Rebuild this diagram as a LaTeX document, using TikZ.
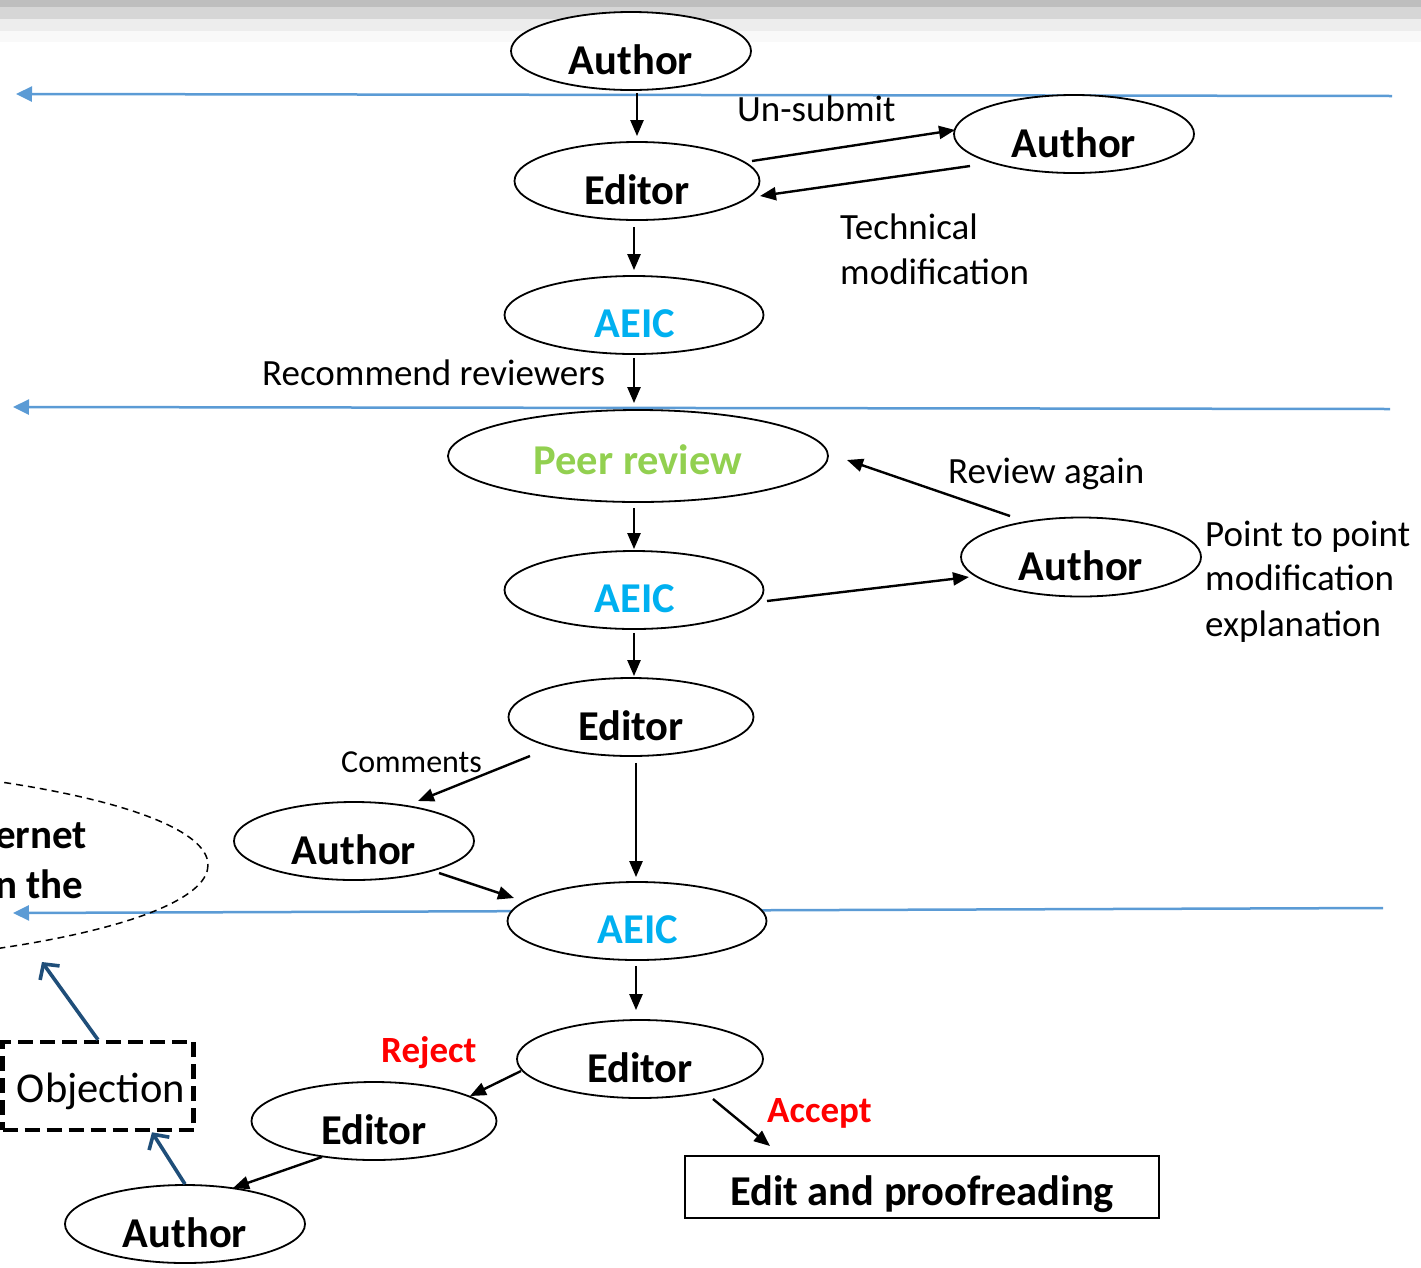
\documentclass[tikz,border=0pt]{standalone}
\usepackage{fontspec}
\setmainfont{Carlito}
\usetikzlibrary{shapes.geometric,arrows.meta,calc}
\definecolor{lineblue}{HTML}{5B9BD5}
\definecolor{aeiccol}{HTML}{00B0F0}
\definecolor{peercol}{HTML}{92D050}
\definecolor{darkarrow}{HTML}{1F4E79}
\definecolor{redlbl}{HTML}{FF0000}
\definecolor{bandA}{HTML}{BEBEBE}
\definecolor{bandB}{HTML}{D6D6D6}
\definecolor{bandC}{HTML}{EDEDED}
\definecolor{bandD}{HTML}{F9F9F9}
\begin{document}
\begin{tikzpicture}[x=1pt,y=-1pt,
  ell/.style 2 args={ellipse,draw,line width=1.8pt,fill=white,inner sep=0pt,minimum width=#1,minimum height=#2},
  lbl/.style={anchor=base,inner sep=0pt,font=\fontsize{42.5}{50}\selectfont\bfseries},
  txt/.style={anchor=base west,inner sep=0pt,font=\fontsize{37}{44}\selectfont},
  redtxt/.style={anchor=base west,inner sep=0pt,text=redlbl,font=\fontsize{37}{44}\selectfont\bfseries},
  arr/.style={line width=2.4pt,-{Triangle[length=16pt,width=13pt]}},
  bline/.style={draw=lineblue,line width=2.5pt,-{Triangle[length=16pt,width=15pt]}},
  darr/.style={draw=darkarrow,line width=3.6pt,-{Straight Barb[length=11pt,width=24pt]}}
]
\useasboundingbox (0,0) rectangle (1421,1267);
% top bands
\fill[bandD] (0,31) rectangle (1421,42);
\fill[bandC] (0,19) rectangle (1421,31);
\fill[bandB] (0,7) rectangle (1421,19);
\fill[bandA] (0,0) rectangle (1421,7);

% blue separator lines
\coordinate (b1r) at (1392,96);  \coordinate (b1l) at (16,94);
\coordinate (b2r) at (1390,409); \coordinate (b2l) at (13,407);
\coordinate (b3r) at (1383,908); \coordinate (b3l) at (13,913);
\draw[bline] (b1r) -- (b1l);
\draw[bline] (b2r) -- (b2l);
\draw[bline] (b3r) -- (b3l);

% dashed ellipse on the left (clipped)
\begin{scope}
\clip (0,0) rectangle (1421,1267);
\draw[line width=1.5pt,dash pattern=on 7pt off 5pt] (-300,865) ellipse [x radius=508, y radius=103];
\node[anchor=base west,inner sep=0pt,font=\fontsize{41}{48}\selectfont\bfseries] (intA) at (-5,848) {ernet};
\node[anchor=base west,inner sep=0pt,font=\fontsize{41}{48}\selectfont\bfseries] (intB) at (-5,898) {n the};
\end{scope}

% nodes
\node[ell={240pt}{78pt}] (a1) at (631,51) {};
\node[ell={245pt}{78pt}] (e1) at (637,181) {};
\node[ell={240pt}{78pt}] (r1) at (1074,134) {};
\node[ell={259pt}{78pt}] (c1) at (634,315) {};
\node[ell={380pt}{92pt}] (pr) at (638,456) {};
\node[ell={259pt}{78pt}] (c2) at (634,590) {};
\node[ell={240pt}{79pt}] (r2) at (1081,557) {};
\node[ell={245pt}{78pt}] (e2) at (631,717) {};
\node[ell={240pt}{78pt}] (aL) at (354,841) {};
\node[ell={259pt}{78pt}] (c3) at (637,921) {};
\node[ell={246pt}{78pt}] (e3) at (640,1059) {};
\node[ell={245pt}{78pt}] (e4) at (374,1121) {};
\node[ell={240pt}{78pt}] (ab) at (185,1224) {};
\node[draw,line width=2pt,minimum width=474pt,minimum height=62pt,inner sep=0pt] (box) at (922,1187) {};
\node[draw,line width=4.5pt,dash pattern=on 15pt off 7pt,minimum width=191pt,minimum height=88pt,inner sep=0pt] (obj) at (98,1086) {};

% node labels
\node[lbl] (a1t) at ($(a1)+(0,23)$) {Author};
\node[lbl] (e1t) at ($(e1)+(0,23)$) {Editor};
\node[lbl] (r1t) at ($(r1)+(0,23)$) {Author};
\node[lbl,text=aeiccol] (c1t) at ($(c1)+(1,22)$) {AEIC};
\node[lbl,text=peercol] (prt) at ($(pr)+(0,18)$) {Peer review};
\node[lbl,text=aeiccol] (c2t) at ($(c2)+(1,22)$) {AEIC};
\node[lbl] (r2t) at ($(r2)+(0,23)$) {Author};
\node[lbl] (e2t) at ($(e2)+(0,23)$) {Editor};
\node[lbl] (aLt) at ($(aL)+(0,23)$) {Author};
\node[lbl,text=aeiccol] (c3t) at ($(c3)+(1,22)$) {AEIC};
\node[lbl] (e3t) at ($(e3)+(0,23)$) {Editor};
\node[lbl] (e4t) at ($(e4)+(0,23)$) {Editor};
\node[lbl] (abt) at ($(ab)+(0,23)$) {Author};
\node[lbl] (boxt) at ($(box)+(0,18)$) {Edit and proofreading};
\node[anchor=base,inner sep=0pt,font=\fontsize{42.5}{50}\selectfont] (objt) at ($(obj)+(3,16)$) {Objection};

% free text
\node[txt] (t1) at (737,121) {Un-submit};
\node[txt] (t2) at (840,239) {Technical};
\node[txt] (t3) at (840,284) {modification};
\node[txt] (t4) at (262,385) {Recommend reviewers};
\node[txt] (t5) at (948,483) {Review again};
\node[txt] (t6) at (1205,546) {Point to point};
\node[txt] (t7) at (1205,590) {modification};
\node[txt] (t8) at (1205,636) {explanation};
\node[anchor=base west,inner sep=0pt,font=\fontsize{32}{38}\selectfont] (t9) at (341,772) {Comments};
\node[redtxt] (t10) at (381,1062) {Reject};
\node[redtxt] (t11) at (767,1122) {Accept};

% vertical arrows
\draw[arr,shorten <=2pt,shorten >=5pt] (a1.south -| e1.north) -- (e1.north);
\draw[arr,shorten <=6pt,shorten >=5pt] (e1.south -| c1.north) -- (c1.north);
\draw[arr,shorten <=3pt,shorten >=6pt] (c1.south) -- (c1.south |- pr.north);
\draw[arr,shorten <=5pt,shorten >=1pt] (pr.south -| c2.north) -- (c2.north);
\draw[arr,shorten <=3pt,shorten >=1pt] (c2.south) -- (c2.south |- e2.north);
\draw[arr,shorten <=6pt,shorten >=4pt] ($(e2.south)+(5,0)$) -- ($(c3.north)+(-1,0)$);
\draw[arr,shorten <=5pt,shorten >=9pt] ($(c3.south)+(-1,0)$) -- ($(e3.north)+(-4,0)$);

% slanted arrows
\draw[arr] ($(e1)+(115,-20)$) -- ($(r1)+(-119,-4)$);
\draw[arr] ($(r1)+(-104,32)$) -- ($(e1)+(123,15)$);
\draw[arr] ($(r2)+(-71,-41)$) -- ($(pr)+(209,4)$);
\draw[arr] ($(c2)+(133,11)$) -- ($(r2)+(-112,20)$);
\draw[arr] ($(e2)+(-101,39)$) -- ($(aL)+(64,-40)$);
\draw[arr] ($(aL)+(85,32)$) -- ($(c3)+(-123,-23)$);
\draw[arr] ($(e3)+(-119,12)$) -- ($(e4)+(96,-25)$);
\draw[arr] ($(e3)+(73,40)$) -- ($(box.north west)+(86,-9)$);
\draw[arr] ($(e4)+(-52,36)$) -- ($(ab)+(48,-36)$);

% dark blue arrows
\coordinate (dtip) at (42,962);
\draw[darr] (ab.north) -- ($(obj.south)+(54,0)$);
\draw[darr] (obj.north) -- (dtip);
\end{tikzpicture}
\end{document}
